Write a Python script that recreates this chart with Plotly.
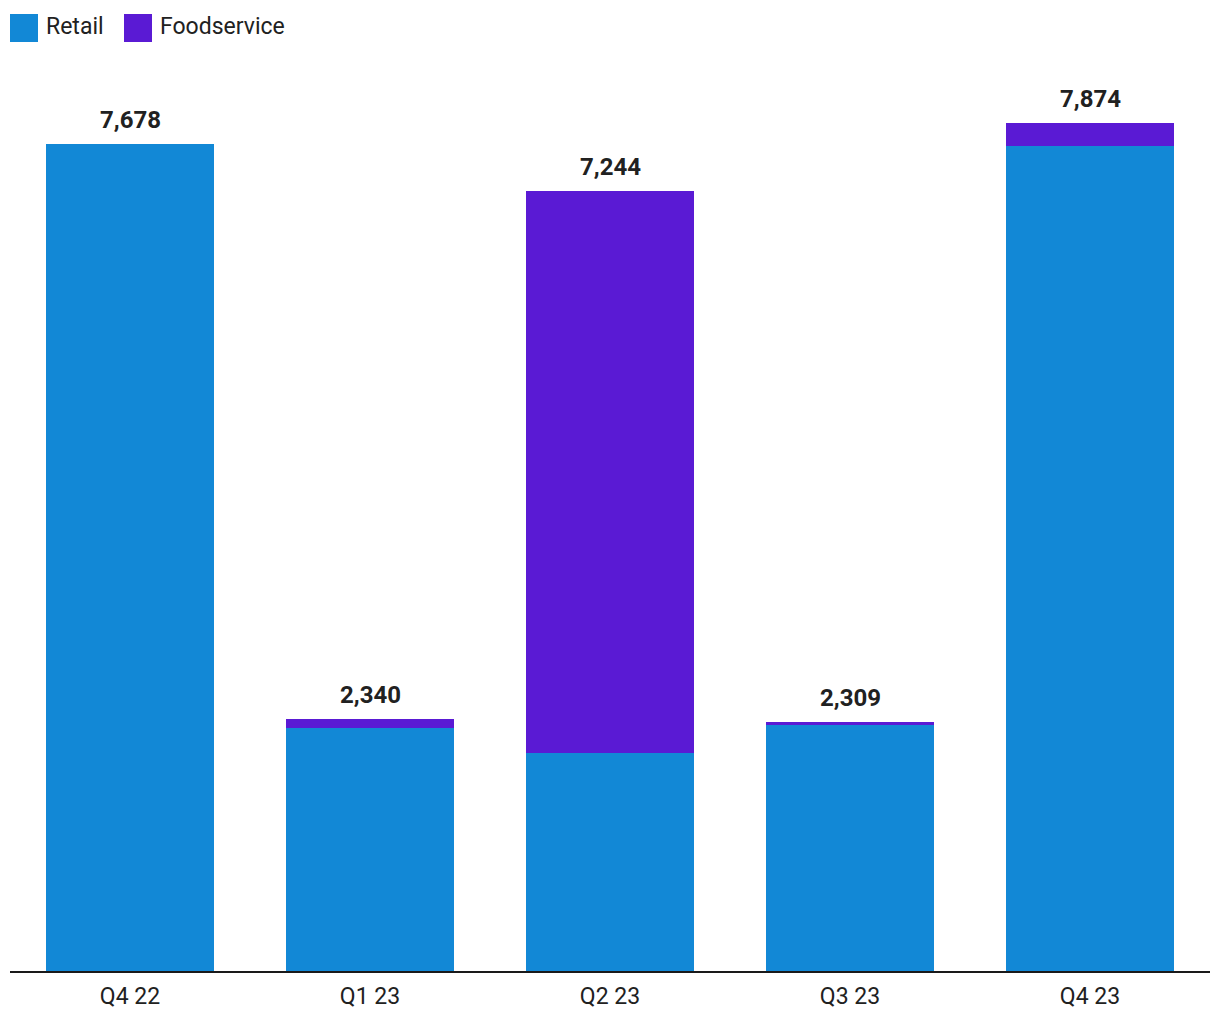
import plotly.graph_objects as go

categories = ["Q4 22", "Q1 23", "Q2 23", "Q3 23", "Q4 23"]
retail = [7678, 2255, 2024, 2280, 7655]
foodservice = [0, 85, 5220, 29, 219]
totals = [7678, 2340, 7244, 2309, 7874]
series_names = ["Retail", "Foodservice"]
colors = ["#1288D6", "#5A1AD4"]

FONT = "Roboto"
TXT = "#212121"

fig = go.Figure()
fig.add_trace(go.Bar(x=categories, y=retail, name=series_names[0],
                     marker=dict(color=colors[0], line=dict(width=0)),
                     hoverinfo="x+y+name"))
fig.add_trace(go.Bar(x=categories, y=foodservice, name=series_names[1],
                     marker=dict(color=colors[1], line=dict(width=0)),
                     hoverinfo="x+y+name"))

for c, t in zip(categories, totals):
    fig.add_annotation(x=c, y=t, xref="x", yref="y", text=f"<b>{t:,}</b>",
                       showarrow=False, yanchor="middle", yshift=24,
                       font=dict(family=FONT, size=24, color=TXT))

# custom legend
W, H = 1220, 1020
ml, mr, mt, mb = 10, 10, 60, 49
pw, ph = W - ml - mr, H - mt - mb

def px_x(x):
    return (x - ml) / pw

def px_y(y):
    return (H - mb - y) / ph

legend_items = [(10, 38, 44), (124, 152, 158)]
for (x0, x1, tx), name, col in zip(legend_items, series_names, colors):
    fig.add_shape(type="rect", xref="paper", yref="paper",
                  x0=px_x(x0), x1=px_x(x1), y0=px_y(42), y1=px_y(14),
                  fillcolor=col, line=dict(width=0))
    fig.add_annotation(xref="paper", yref="paper", x=px_x(tx), y=px_y(27),
                       text=name, showarrow=False, xanchor="left", yanchor="middle",
                       font=dict(family=FONT, size=23, color=TXT))

fig.update_layout(
    width=W, height=H,
    margin=dict(l=ml, r=mr, t=mt, b=mb, pad=0),
    barmode="stack", bargap=0.3,
    showlegend=False,
    plot_bgcolor="white", paper_bgcolor="white",
    font=dict(family=FONT, size=23, color=TXT),
    xaxis=dict(showline=True, linecolor="#1a1a1a", linewidth=2, showgrid=False,
               ticks="", ticklabelstandoff=3,
               tickfont=dict(family=FONT, size=23, color=TXT)),
    yaxis=dict(range=[0, (H - mb - mt) * 7678 / 827], showticklabels=False,
               showgrid=False, zeroline=False, showline=False, fixedrange=True),
)

fig.write_html("out.html")
